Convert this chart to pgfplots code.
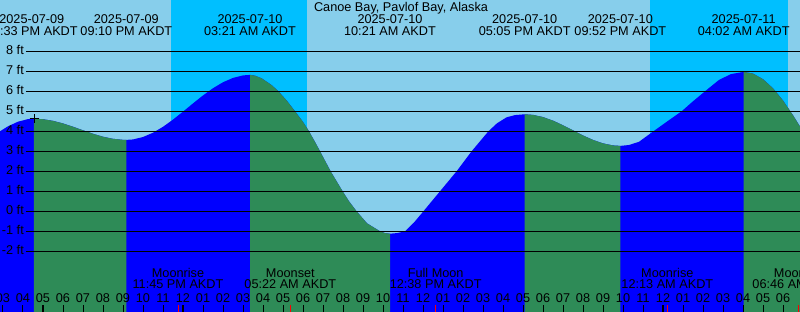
\documentclass[border=0pt]{standalone}
\usepackage{fontspec}
\setmainfont{Liberation Sans}
\usepackage{pgfplots}
\pgfplotsset{compat=1.18}
\definecolor{dayc}{RGB}{135,206,235}
\definecolor{nightc}{RGB}{0,191,255}
\definecolor{flood}{RGB}{0,0,255}
\definecolor{ebb}{RGB}{46,139,87}
\newcommand\lab{\fontsize{12.7}{12}\selectfont}
\begin{document}
\begin{tikzpicture}
\begin{axis}[
  width=800pt, height=312pt, scale only axis,
  xmin=-9.15, xmax=30.85, ymin=-5.035, ymax=10.565,
  axis background/.style={fill=dayc},
  axis line style={draw=none},
  axis on top,
  ytick=\empty,
  xtick={-9,...,30},
  xticklabels={03,04,05,06,07,08,09,10,11,12,01,02,03,04,05,06,07,08,09,10,11,12,01,02,03,04,05,06,07,08,09,10,11,12,01,02,03,04,05,06},
  xtick pos=left,
  tick align=inside,
  major tick length=7pt,
  minor tick length=7pt,
  tick style={black, line width=1pt},
  minor xtick={0,24},
  minor tick style={black, line width=2.3pt},
  extra x ticks={-0.25,5.367,12.633,24.217,30.767},
  extra x tick labels={},
  extra x tick style={tick style={red, line width=1pt}},
  xticklabel style={font=\lab, anchor=base, yshift=9.7pt},
  clip=true,
]
% night bands (sunset to sunrise)
\addplot[fill=nightc, draw=none] coordinates {(-0.6,-6) (-0.6,11) (6.215,11) (6.215,-6)} -- cycle;
\addplot[fill=nightc, draw=none] coordinates {(23.35,-6) (23.35,11) (30.235,11) (30.235,-6)} -- cycle;
% tide level (full curve, rising colour)
\addplot[fill=flood, draw=none] coordinates {(-9.4,-6) (-9.4,3.85) (-9.15,4.00) (-8.75,4.25) (-8.25,4.48) (-7.75,4.61) (-7.45,4.63) (-7.0,4.605) (-6.5,4.523) (-6.0,4.392) (-5.5,4.228) (-5.0,4.049) (-4.5,3.876) (-4.0,3.728) (-3.5,3.624) (-3.0,3.573) (-2.833,3.57) (-2.5,3.593) (-2.0,3.713) (-1.5,3.929) (-1.0,4.225) (-0.5,4.583) (0.0,4.982) (0.5,5.394) (1.0,5.793) (1.5,6.154) (2.0,6.452) (2.5,6.669) (3.0,6.794) (3.35,6.82) (3.6,6.78) (3.93,6.65) (4.43,6.31) (4.77,6.0) (5.2,5.52) (5.6,5.0) (6.0,4.47) (6.3,4.0) (6.68,3.32) (6.85,3.0) (7.38,2.0) (7.98,1.0) (8.3,0.5) (8.68,0.0) (9.2,-0.6) (9.85,-1.0) (10.1,-1.09) (10.35,-1.12) (10.7,-1.09) (11.1,-1.0) (11.55,-0.56) (12.02,0.0) (12.85,1.0) (13.68,2.0) (14.43,3.0) (15.27,4.0) (15.7,4.4) (16.18,4.7) (16.6,4.81) (17.083,4.85) (17.5,4.821) (18.0,4.711) (18.5,4.532) (19.0,4.302) (19.5,4.047) (20.0,3.793) (20.5,3.567) (21.0,3.395) (21.5,3.293) (21.867,3.27) (22.3,3.315) (22.8,3.475) (23.52,4.0) (24.22,4.5) (24.93,5.0) (25.5,5.5) (26.1,6.0) (26.8,6.57) (27.4,6.86) (28.033,6.97) (28.5,6.884) (29.0,6.606) (29.5,6.151) (30.0,5.54) (30.5,4.802) (30.85,4.236) (31.0,3.98) (31.0,-6)} -- cycle;
% falling-tide segments
\addplot[fill=ebb, draw=none] coordinates {(-7.45,-6) (-7.45,4.63) (-7.0,4.605) (-6.5,4.523) (-6.0,4.392) (-5.5,4.228) (-5.0,4.049) (-4.5,3.876) (-4.0,3.728) (-3.5,3.624) (-3.0,3.573) (-2.833,3.57) (-2.833,-6)} -- cycle;
\addplot[fill=ebb, draw=none] coordinates {(3.35,-6) (3.35,6.82) (3.6,6.78) (3.93,6.65) (4.43,6.31) (4.77,6.0) (5.2,5.52) (5.6,5.0) (6.0,4.47) (6.3,4.0) (6.68,3.32) (6.85,3.0) (7.38,2.0) (7.98,1.0) (8.3,0.5) (8.68,0.0) (9.2,-0.6) (9.85,-1.0) (10.1,-1.09) (10.35,-1.12) (10.35,-6)} -- cycle;
\addplot[fill=ebb, draw=none] coordinates {(17.083,-6) (17.083,4.85) (17.5,4.821) (18.0,4.711) (18.5,4.532) (19.0,4.302) (19.5,4.047) (20.0,3.793) (20.5,3.567) (21.0,3.395) (21.5,3.293) (21.867,3.27) (21.867,-6)} -- cycle;
\addplot[fill=ebb, draw=none] coordinates {(28.033,-6) (28.033,6.97) (28.5,6.884) (29.0,6.606) (29.5,6.151) (30.0,5.54) (30.5,4.802) (30.85,4.236) (31.0,3.98) (31.0,-6)} -- cycle;
% depth lines
\pgfplotsinvokeforeach{-2,...,8}{
  \addplot[black, line width=1pt] coordinates {(-7.85,#1) (31,#1)};
  \node[anchor=base east, font=\lab, inner sep=0pt, yshift=-3.7pt] at (axis cs:-7.95,#1) {#1 ft};
}
% current-time marker
\addplot[only marks, mark=+, mark size=4.5pt, black, line width=1pt] coordinates {(-7.44,4.63)};
% title
\node[anchor=base, font=\lab] at (axis cs:10.9,9.965) {Canoe Bay, Pavlof Bay, Alaska};
% tide events
\node[anchor=base, font=\lab] at (axis cs:-7.56,9.365) {2025-07-09};
\node[anchor=base, font=\lab] at (axis cs:-7.56,8.765) {04:33 PM AKDT};
\node[anchor=base, font=\lab] at (axis cs:-2.833,9.365) {2025-07-09};
\node[anchor=base, font=\lab] at (axis cs:-2.833,8.765) {09:10 PM AKDT};
\node[anchor=base, font=\lab] at (axis cs:3.35,9.365) {2025-07-10};
\node[anchor=base, font=\lab] at (axis cs:3.35,8.765) {03:21 AM AKDT};
\node[anchor=base, font=\lab] at (axis cs:10.35,9.365) {2025-07-10};
\node[anchor=base, font=\lab] at (axis cs:10.35,8.765) {10:21 AM AKDT};
\node[anchor=base, font=\lab] at (axis cs:17.083,9.365) {2025-07-10};
\node[anchor=base, font=\lab] at (axis cs:17.083,8.765) {05:05 PM AKDT};
\node[anchor=base, font=\lab] at (axis cs:21.867,9.365) {2025-07-10};
\node[anchor=base, font=\lab] at (axis cs:21.867,8.765) {09:52 PM AKDT};
\node[anchor=base, font=\lab] at (axis cs:28.033,9.365) {2025-07-11};
\node[anchor=base, font=\lab] at (axis cs:28.033,8.765) {04:02 AM AKDT};
% moon events
\node[anchor=base, font=\lab] at (axis cs:-0.25,-3.3) {Moonrise};
\node[anchor=base, font=\lab] at (axis cs:-0.25,-3.87) {11:45 PM AKDT};
\node[anchor=base, font=\lab] at (axis cs:5.367,-3.3) {Moonset};
\node[anchor=base, font=\lab] at (axis cs:5.367,-3.87) {05:22 AM AKDT};
\node[anchor=base, font=\lab] at (axis cs:12.633,-3.3) {Full Moon};
\node[anchor=base, font=\lab] at (axis cs:12.633,-3.87) {12:38 PM AKDT};
\node[anchor=base, font=\lab] at (axis cs:24.217,-3.3) {Moonrise};
\node[anchor=base, font=\lab] at (axis cs:24.217,-3.87) {12:13 AM AKDT};
\node[anchor=base, font=\lab] at (axis cs:30.767,-3.3) {Moonset};
\node[anchor=base, font=\lab] at (axis cs:30.767,-3.87) {06:46 AM AKDT};
\end{axis}
\pgfresetboundingbox
\useasboundingbox (current axis.south west) rectangle (current axis.north east);
\end{tikzpicture}
\end{document}
